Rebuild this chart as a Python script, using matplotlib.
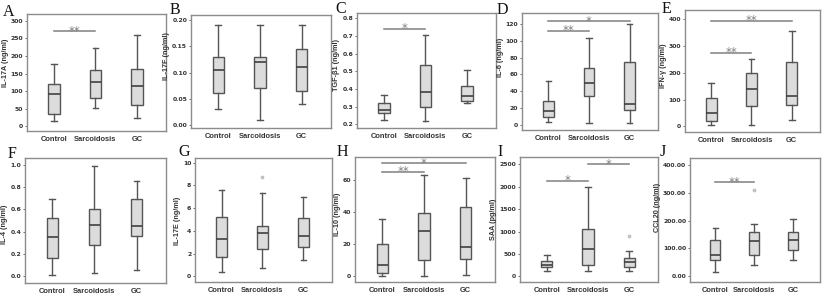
import matplotlib
matplotlib.use("Agg")
import matplotlib.pyplot as plt
from matplotlib.ticker import FormatStrFormatter

# ------------------------------------------------------------
# data: five-number summaries (whisker low, q1, median, q3, whisker high)
# ------------------------------------------------------------
groups = ["Control", "Sarcoidosis", "GC"]

il17a = [[15, 35, 92, 120, 178], [52, 80, 127, 160, 222], [24, 60, 115, 163, 260]]
il17f = [[0.03, 0.06, 0.105, 0.13, 0.19], [0.01, 0.07, 0.12, 0.13, 0.19], [0.04, 0.065, 0.11, 0.145, 0.19]]
tgfb1 = [[0.225, 0.265, 0.28, 0.32, 0.365], [0.22, 0.30, 0.385, 0.535, 0.705], [0.32, 0.335, 0.36, 0.42, 0.505]]
il6 = [[3, 9, 16, 29, 52], [2, 34, 50, 68, 103], [2, 18, 25, 75, 120]]
ifng = [[5, 20, 50, 105, 163], [5, 75, 138, 198, 250], [22, 80, 115, 240, 358]]
il4 = [[0.01, 0.16, 0.35, 0.52, 0.69], [0.03, 0.28, 0.46, 0.60, 0.99], [0.06, 0.36, 0.45, 0.69, 0.85]]
il17e = [[0.4, 1.7, 3.3, 5.2, 7.6], [0.7, 2.4, 3.85, 4.45, 7.3], [1.4, 2.55, 3.55, 5.15, 6.95]]
il10 = [[0.5, 2, 7, 20, 35.5], [0.5, 10, 28, 39.5, 63], [1, 10.5, 18, 43, 61]]
saa = [[130, 200, 260, 340, 470], [120, 250, 600, 1060, 2000], [120, 210, 320, 420, 560]]
ccl20 = [[15, 57, 77, 130, 175], [40, 78, 127, 160, 188], [58, 95, 130, 160, 207]]

# outliers (group index -> values)
il17e_fliers = {1: [8.7]}
saa_fliers = {2: [900]}
ccl20_fliers = {1: [310]}

# significance bars: (from group, to group, height, label)
il17a_sig = [(1, 2, 270, "**")]
tgfb1_sig = [(1, 2, 0.74, "*")]
il6_sig = [(1, 2, 112, "**"), (1, 3, 123, "*")]
ifng_sig = [(1, 2, 275, "**"), (1, 3, 395, "**")]
il10_sig = [(1, 2, 65, "**"), (1, 3, 70, "*")]
saa_sig = [(1, 2, 2130, "*"), (2, 3, 2500, "*")]
ccl20_sig = [(1, 2, 338, "**")]

BOX_FACE = "#dcdcdc"
EDGE = "#555555"
FRAME = "#8c8c8c"
SIG = "#808080"
FONT = ["Liberation Sans Narrow", "Liberation Sans", "DejaVu Sans"]

W, H = 825, 302
fig = plt.figure(figsize=(W / 100, H / 100), dpi=100)
fig.patch.set_facecolor("white")


def px_axes(x0, y0, x1, y1):
    # pixel box (top-left origin) -> figure fraction
    return fig.add_axes([x0 / W, 1 - y1 / H, (x1 - x0) / W, (y1 - y0) / H])


def panel(box, stats, ylabel, ylim, yticks, fmt, label_y=0.5, fliers=None, sigs=None):
    ax = px_axes(*box)
    bxp_stats = []
    for i, s in enumerate(stats):
        bxp_stats.append({
            "whislo": s[0], "q1": s[1], "med": s[2], "q3": s[3], "whishi": s[4],
            "fliers": (fliers or {}).get(i, []),
        })
    ax.bxp(bxp_stats, positions=[1, 2, 3], widths=0.27, patch_artist=True,
           showfliers=True,
           boxprops=dict(facecolor=BOX_FACE, edgecolor=EDGE, linewidth=1.0),
           medianprops=dict(color="#404040", linewidth=1.2),
           whiskerprops=dict(color=EDGE, linewidth=1.0),
           capprops=dict(color=EDGE, linewidth=1.0),
           capwidths=0.14,
           flierprops=dict(marker="o", markersize=2.2, markerfacecolor="#c8c8c8",
                           markeredgecolor="#b0b0b0", markeredgewidth=0.4))
    ax.set_xlim(0.35, 3.7)
    ax.set_ylim(*ylim)
    ax.set_yticks(yticks)
    ax.yaxis.set_major_formatter(FormatStrFormatter(fmt))
    ax.set_xticks([1, 2, 3])
    ax.set_xticklabels(groups, family=FONT, fontsize=5.4, fontweight="bold", color="#333333")
    ax.tick_params(axis="x", length=0, pad=3.5)
    ax.tick_params(axis="y", length=1.5, width=0.5, pad=1.2, labelsize=4.4,
                   colors="#333333")
    for lab in ax.get_yticklabels():
        lab.set_fontweight("bold")
    ax.set_ylabel(ylabel, family=FONT, fontsize=5.2, fontweight="bold",
                  color="#333333", labelpad=1.5)
    # label sits a bit off-centre in the original
    ax.yaxis.label.set_y(label_y)
    for sp in ax.spines.values():
        sp.set_color(FRAME)
        sp.set_linewidth(1.0)

    for a, b, h, lab in (sigs or []):
        ax.plot([a, b], [h, h], color=SIG, linewidth=1.1, clip_on=False)
        ax.text((a + b) / 2, h, lab, ha="center", va="center", fontsize=8.5,
                color=SIG)
    return ax


def letter_at(x, y, s):
    fig.text(x / W, 1 - y / H, s, family=["Liberation Serif", "DejaVu Serif"],
             fontsize=11.5, ha="left", va="top", color="#111111")


# row 1
panel((27, 14, 166, 131), il17a, "IL-17A (ng/ml)", (-13, 319),
      [0, 50, 100, 150, 200, 250, 300], "%d", label_y=0.58, sigs=il17a_sig)
panel((191, 15, 331, 128), il17f, "IL-17F (ng/ml)", (-0.006, 0.21),
      [0.00, 0.05, 0.10, 0.15, 0.20], "%.2f", label_y=0.64)
panel((357, 13, 496, 128), tgfb1, "TGF-\u03b21 (ng/ml)", (0.18, 0.83),
      [0.2, 0.3, 0.4, 0.5, 0.6, 0.7, 0.8], "%.1f", label_y=0.55, sigs=tgfb1_sig)
panel((522, 13, 658, 130), il6, "IL-6 (ng/ml)", (-6, 133),
      [0, 20, 40, 60, 80, 100, 120], "%d", label_y=0.62, sigs=il6_sig)
panel((685, 10, 820, 132), ifng, "IFN-\u03b3 (ng/ml)", (-21, 435),
      [0, 100, 200, 300, 400], "%d", label_y=0.54, sigs=ifng_sig)

# row 2
panel((25, 158, 166, 283), il4, "IL-4 (ng/ml)", (-0.06, 1.06),
      [0.0, 0.2, 0.4, 0.6, 0.8, 1.0], "%.1f", label_y=0.47)
panel((195, 158, 332, 282), il17e, "IL-17E (ng/ml)", (-0.5, 10.4),
      [0, 2, 4, 6, 8, 10], "%d", label_y=0.49, fliers=il17e_fliers)
panel((355, 157, 495, 282), il10, "IL-10 (ng/ml)", (-3.5, 74),
      [0, 20, 40, 60], "%d", label_y=0.54, sigs=il10_sig)
panel((520, 157, 658, 282), saa, "SAA (pg/ml)", (-126, 2664),
      [0, 500, 1000, 1500, 2000, 2500], "%d", label_y=0.5, fliers=saa_fliers, sigs=saa_sig)
panel((690, 158, 820, 282), ccl20, "CCL20 (ng/ml)", (-20, 424),
      [0, 100, 200, 300, 400], "%.2f", label_y=0.6, fliers=ccl20_fliers, sigs=ccl20_sig)

for x, y, s in [(3, 4, "A"), (170, 2, "B"), (335, 1, "C"), (497, 2, "D"), (662, 1, "E"),
                (8, 146, "F"), (178, 144, "G"), (337, 144, "H"), (497, 144, "I"), (660, 144, "J")]:
    letter_at(x, y, s)

fig.savefig("out.png", dpi=100, facecolor="white")
